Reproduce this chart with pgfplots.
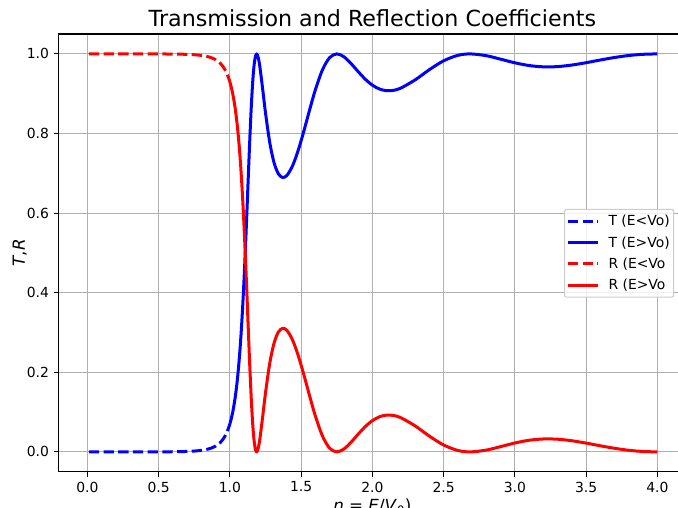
\documentclass[border=0pt]{standalone}
\usepackage{fontspec}
\setmainfont{DejaVu Sans}
\usepackage{pgfplots}
\pgfplotsset{compat=1.18}
\usepackage{pgfplotstable}

% E < V0 branch
\pgfplotstableread{
n     T        R
0.01  0.00000  1.00000
0.10  0.00000  1.00000
0.20  0.00000  1.00000
0.30  0.00001  0.99999
0.40  0.00005  0.99995
0.50  0.00014  0.99986
0.60  0.00040  0.99960
0.65  0.00068  0.99932
0.70  0.00119  0.99881
0.75  0.00212  0.99788
0.80  0.00390  0.99610
0.85  0.00739  0.99261
0.88  0.01111  0.98889
0.90  0.01473  0.98527
0.93  0.02280  0.97720
0.95  0.03110  0.96890
0.96  0.03640  0.96360
0.97  0.04270  0.95730
0.98  0.05040  0.94960
0.99  0.05950  0.94050
1.00  0.07060  0.92940
}\lowdata

% E > V0 branch
\pgfplotstableread{
n       T       R
1.00    0.0706  0.9294
1.01    0.0840  0.9160
1.02    0.1003  0.8997
1.03    0.1202  0.8798
1.04    0.1444  0.8556
1.05    0.1739  0.8261
1.06    0.2098  0.7902
1.07    0.2533  0.7467
1.08    0.3055  0.6945
1.09    0.3674  0.6326
1.10    0.4392  0.5608
1.11    0.5204  0.4796
1.12    0.6088  0.3912
1.13    0.7002  0.2998
1.14    0.7883  0.2117
1.15    0.8667  0.1333
1.16    0.9295  0.0705
1.17    0.9726  0.0274
1.18    0.9953  0.0047
1.1875  1.0000  0.0000
1.195   0.9959  0.0041
1.20    0.9891  0.0109
1.21    0.9684  0.0316
1.23    0.9115  0.0885
1.25    0.8514  0.1486
1.28    0.7765  0.2235
1.31    0.7265  0.2735
1.34    0.6989  0.3011
1.37    0.6895  0.3105
1.40    0.6946  0.3054
1.44    0.7191  0.2809
1.48    0.7585  0.2415
1.52    0.8074  0.1926
1.56    0.8601  0.1399
1.60    0.9101  0.0899
1.65    0.9604  0.0396
1.70    0.9907  0.0093
1.75    1.0000  0.0000
1.80    0.9928  0.0072
1.85    0.9758  0.0242
1.90    0.9555  0.0445
1.95    0.9364  0.0636
2.00    0.9214  0.0786
2.05    0.9117  0.0883
2.10    0.9075  0.0925
2.15    0.9086  0.0914
2.20    0.9142  0.0858
2.30    0.9347  0.0653
2.40    0.9604  0.0396
2.50    0.9827  0.0173
2.60    0.9964  0.0036
2.6875  1.0000  0.0000
2.80    0.9954  0.0046
2.90    0.9867  0.0133
3.00    0.9776  0.0224
3.10    0.9707  0.0293
3.20    0.9675  0.0325
3.30    0.9681  0.0319
3.40    0.9720  0.0280
3.50    0.9779  0.0221
3.60    0.9847  0.0153
3.70    0.9910  0.0090
3.80    0.9960  0.0040
3.90    0.9990  0.0010
4.00    1.0000  0.0000
}\highdata

\begin{document}
\begin{tikzpicture}
\begin{axis}[
  scale only axis,
  width=627bp, height=437.8bp,
  xmin=-0.2, xmax=4.2, ymin=-0.05, ymax=1.05,
  axis line style={black, line width=1.1bp},
  tick pos=left, tick align=outside,
  major tick length=4.9bp,
  every tick/.style={black, line width=1.1bp},
  xtick={0,0.5,1,1.5,2,2.5,3,3.5,4},
  ytick={0,0.2,0.4,0.6,0.8,1.0},
  grid=major,
  grid style={color=black!31, line width=1.1bp},
  ticklabel style={font=\fontsize{13.9bp}{16bp}\selectfont},
  xticklabel style={inner sep=0pt, anchor=north, yshift=-4.9bp},
  yticklabel style={inner sep=0pt, anchor=east, xshift=-4.9bp},
  /pgf/number format/.cd, fixed, fixed zerofill, precision=1, assume math mode=true,
  /pgfplots/.cd,
  title={Transmission and Reflection Coefficients},
  title style={at={(axis description cs:0.5,1)}, anchor=base, yshift=2bp, inner sep=0pt,
               font=\fontsize{22.2bp}{26bp}\selectfont},
  xlabel={\textit{n} = \textit{E}/\textit{V}\textsubscript{0})},
  xlabel style={at={(axis description cs:0.5,0)}, anchor=base, yshift=-39.5bp, inner sep=0pt,
                font=\fontsize{16.7bp}{20bp}\selectfont},
  ylabel={\textit{T},\textit{R}},
  ylabel style={at={([xshift=-33.9bp]axis description cs:0,0.5)}, rotate=0, anchor=base, inner sep=0pt,
                font=\fontsize{16.7bp}{20bp}\selectfont},
  legend style={at={(axis description cs:0.8056,0.6007)}, anchor=north west,
                draw=black!20, line width=1.1bp, rounded corners=2bp,
                fill=white, fill opacity=0.8, text opacity=1,
                font=\fontsize{13.9bp}{16bp}\selectfont,
                inner xsep=2bp, inner ysep=4bp, row sep=5.2bp, column sep=7bp,
                nodes={inner sep=2bp}},
  legend cell align=left,
  legend image code/.code={\draw[#1] (0bp,0bp) -- (30bp,0bp);},
]
\addplot[blue, line width=3bp, dash pattern=on 10.3bp off 4.4bp, line join=round, smooth] table[x=n, y=T] {\lowdata};
\addlegendentry{T (E<Vo)}
\addplot[blue, line width=3bp, line join=round, smooth] table[x=n, y=T] {\highdata};
\addlegendentry{T (E>Vo)}
\addplot[red, line width=3bp, dash pattern=on 10.3bp off 4.4bp, line join=round, smooth] table[x=n, y=R] {\lowdata};
\addlegendentry{R (E<Vo}
\addplot[red, line width=3bp, line join=round, smooth] table[x=n, y=R] {\highdata};
\addlegendentry{R (E>Vo}
\end{axis}
\pgfresetboundingbox
\path[use as bounding box] (-58.9bp,-36bp) rectangle (619.1bp,471.8bp);
\end{tikzpicture}
\end{document}
